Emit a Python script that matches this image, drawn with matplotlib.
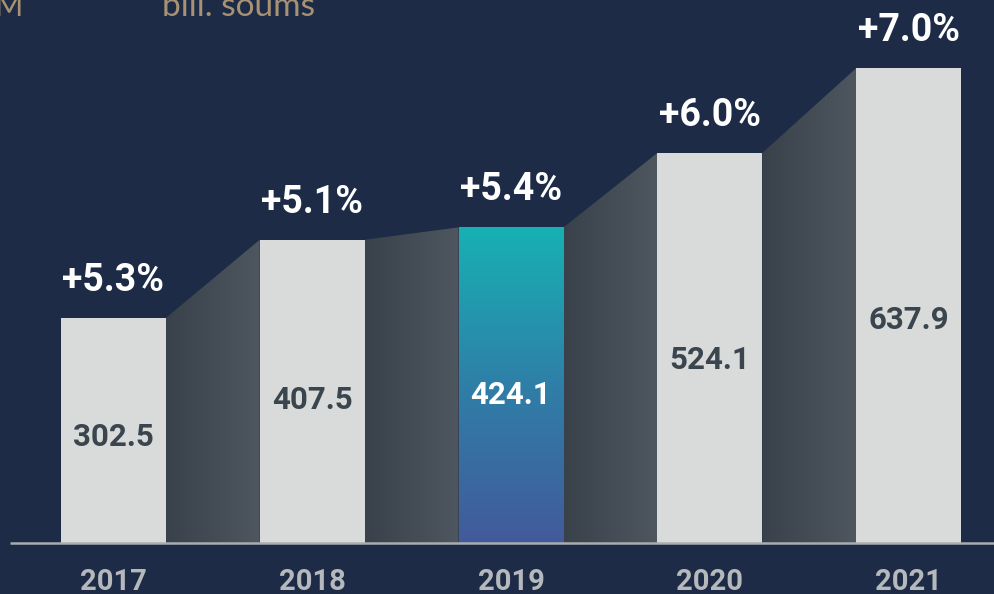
import numpy as np
import matplotlib
matplotlib.use("Agg")
import matplotlib.pyplot as plt
from matplotlib.colors import LinearSegmentedColormap
from matplotlib.patches import Polygon, Rectangle

years = ["2017", "2018", "2019", "2020", "2021"]
values = [302.5, 407.5, 424.1, 524.1, 637.9]
growth = ["+5.3%", "+5.1%", "+5.4%", "+6.0%", "+7.0%"]
highlight = "2019"
unit_label = "bill. soums"
left_fragment = "M"

BG = "#1d2b47"
BAR = "#d9dbda"
VAL = "#3b454e"
YEAR = "#b6b9bc"
TAN = "#a89274"
FONT = ["Roboto", "DejaVu Sans"]

fig = plt.figure(figsize=(9.95, 5.94), dpi=100)
fig.patch.set_facecolor(BG)
ax = fig.add_axes([0, 0, 1, 1])
ax.set_facecolor(BG)
ax.set_xlim(-0.571, 4.435)
ax.set_ylim(-68.5, 729.6)
ax.axis("off")

w = 0.528
x = np.arange(len(years))
ymax = max(values) * 1.2

conn_cmap = LinearSegmentedColormap.from_list("conn", ["#39424b", "#4e575f"])
grad_h = np.linspace(0, 1, 256).reshape(1, -1)
for i in range(len(values) - 1):
    x0 = x[i] + w / 2
    x1 = x[i + 1] - w / 2
    poly = Polygon([(x0, 0), (x0, values[i]), (x1, values[i + 1]), (x1, 0)],
                   closed=True, facecolor="none", edgecolor="none")
    ax.add_patch(poly)
    im = ax.imshow(grad_h, cmap=conn_cmap, extent=[x0, x1, 0, ymax],
                   aspect="auto", zorder=1, interpolation="bicubic")
    im.set_clip_path(poly)

bar_cmap = LinearSegmentedColormap.from_list("hl", ["#425a9b", "#2f7fa8", "#17b1b3"])
grad_v = np.linspace(0, 1, 256).reshape(-1, 1)
for i, (yr, v) in enumerate(zip(years, values)):
    if yr == highlight:
        rect = Rectangle((x[i] - w / 2, 0), w, v, facecolor="none", edgecolor="none")
        ax.add_patch(rect)
        im = ax.imshow(grad_v, cmap=bar_cmap, origin="lower",
                       extent=[x[i] - w / 2, x[i] + w / 2, 0, v],
                       aspect="auto", zorder=2)
        im.set_clip_path(rect)
        tcol = "white"
    else:
        ax.bar(x[i], v, width=w, color=BAR, zorder=2, linewidth=0)
        tcol = VAL
    ax.text(x[i], v * 0.47, f"{v:.1f}", ha="center", va="center",
            color=tcol, fontsize=22.5, fontweight="bold", family=FONT, zorder=4)
    ax.annotate(growth[i], xy=(x[i], v), xytext=(0, 27), textcoords="offset points",
                ha="center", va="center", color="white", fontsize=27,
                fontweight="bold", family=FONT, zorder=4)
    ax.text(x[i], -52, yr, ha="center", va="center", color=YEAR,
            fontsize=21, fontweight="bold", family=FONT, zorder=4)

ax.plot([-0.52, 4.435], [0, 0], color="#a9adb1", lw=1.8, zorder=3,
        solid_capstyle="butt")

fig.text(162 / 995, 1 - 16 / 594, unit_label, ha="left", va="baseline",
         color=TAN, fontsize=24, family=["Lato", "DejaVu Sans"])
fig.text(23 / 995, 1 - 16 / 594, left_fragment, ha="right", va="baseline",
         color=TAN, fontsize=22, family=["Lato", "DejaVu Sans"])

fig.savefig("out.png", dpi=100, facecolor=BG)
